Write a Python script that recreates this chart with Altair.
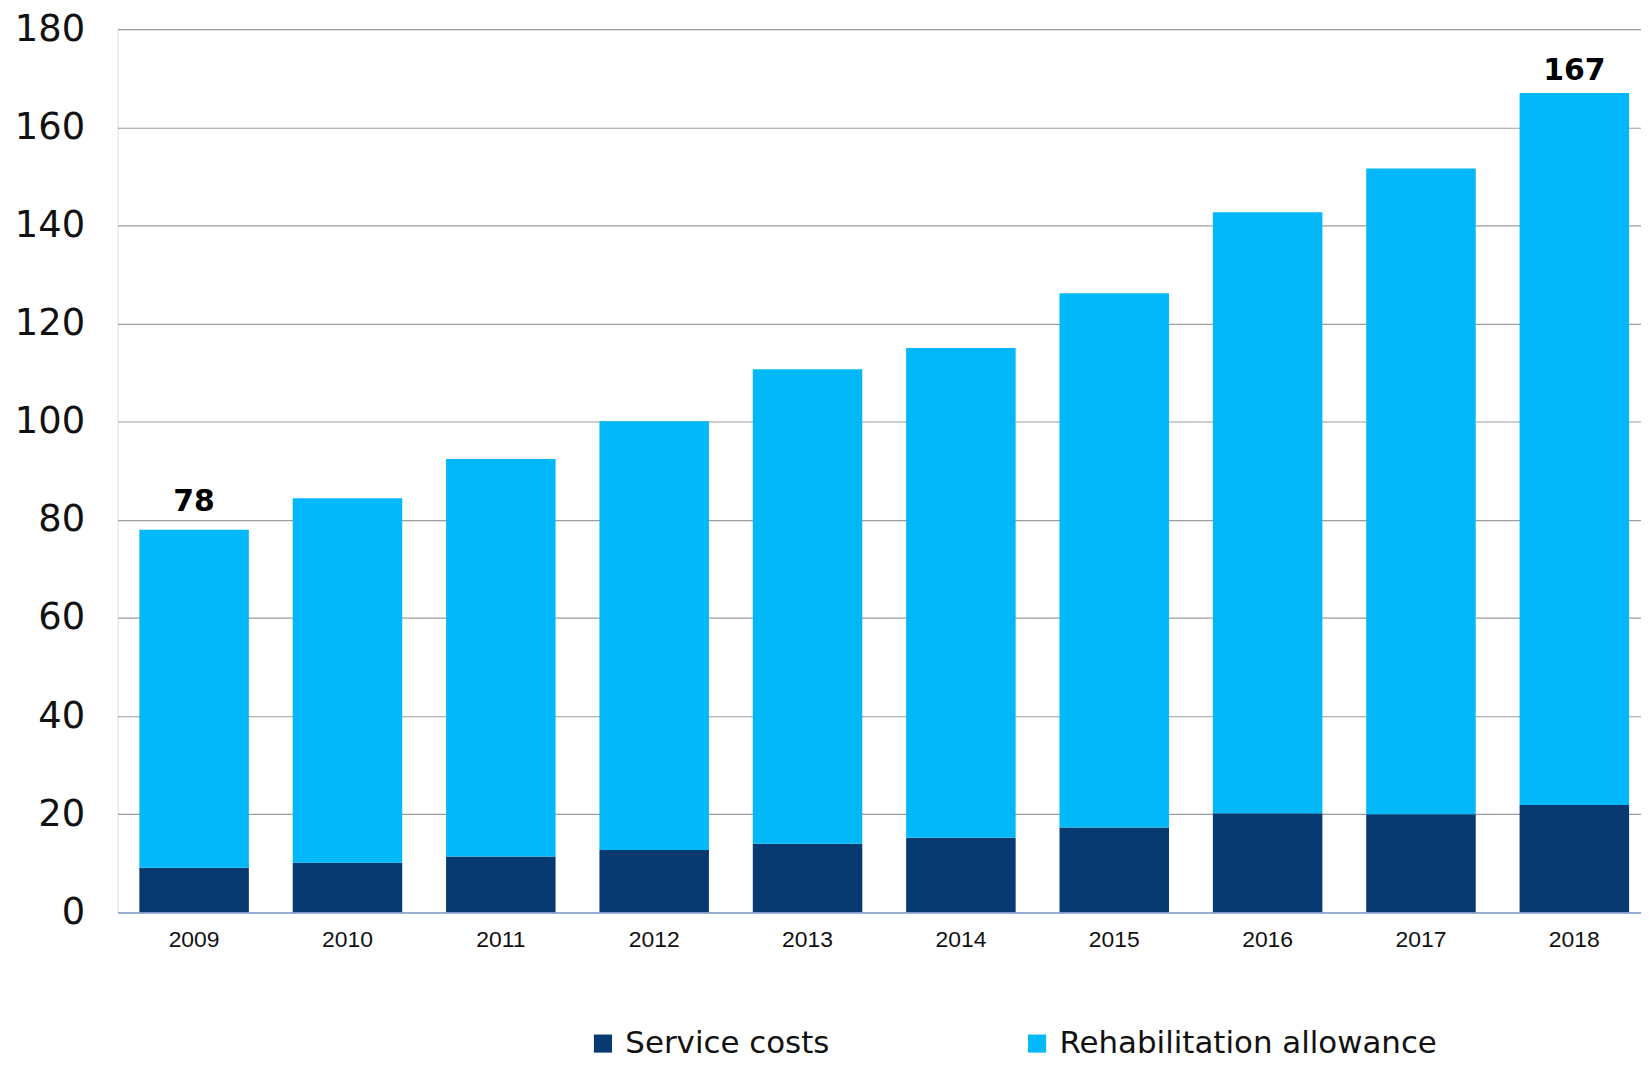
import altair as alt
import pandas as pd

years = ["2009", "2010", "2011", "2012", "2013", "2014", "2015", "2016", "2017", "2018"]
service_costs = [9.1, 10.1, 11.4, 12.7, 14.0, 15.2, 17.3, 20.2, 20.0, 21.9]
rehab_allowance = [68.9, 74.3, 81.0, 87.4, 96.7, 99.8, 108.9, 122.5, 131.6, 145.1]
series = ["Service costs", "Rehabilitation allowance"]
colors = ["#073A70", "#02B8F9"]
label_years = ["2009", "2018"]
label_values = [78, 167]
y_ticks = [0, 20, 40, 60, 80, 100, 120, 140, 160, 180]

rows = []
for i, y in enumerate(years):
    rows.append({"year": y, "series": series[0], "value": service_costs[i], "idx": 0})
    rows.append({"year": y, "series": series[1], "value": rehab_allowance[i], "idx": 1})
df = pd.DataFrame(rows)
labels = pd.DataFrame({"year": label_years, "total": label_values})

x_enc = alt.X(
    "year:N",
    sort=years,
    scale=alt.Scale(paddingInner=0.286, paddingOuter=0.11, align=0.647),
    axis=alt.Axis(
        title=None, ticks=False, labelAngle=0, labelFont="Liberation Sans",
        labelFontSize=23, labelColor="#111111", labelPadding=16,
        domainColor="#8EAADB", domainWidth=1.5, grid=False, zindex=1,
    ),
)

bars = alt.Chart(df).mark_bar().encode(
    x=x_enc,
    y=alt.Y(
        "value:Q",
        stack="zero",
        scale=alt.Scale(domain=[0, 180], nice=False),
        axis=alt.Axis(
            title=None, values=y_ticks, ticks=False, tickSize=0, domain=False,
            labelFont="DejaVu Sans", labelFontSize=37, labelColor="#111111",
            labelPadding=33, gridColor="#9C9C9C", gridWidth=1.2,
        ),
    ),
    color=alt.Color(
        "series:N",
        scale=alt.Scale(domain=series, range=colors),
        legend=alt.Legend(
            title=None, orient="none", legendX=472, legendY=1003,
            direction="horizontal", symbolType="square", symbolSize=330,
            symbolStrokeWidth=0, labelFont="DejaVu Sans", labelFontSize=31,
            labelColor="#111111", labelOffset=7, columnPadding=193, padding=0,
            labelLimit=600,
        ),
    ),
    order=alt.Order("idx:Q", sort="ascending"),
)

def value_label(offset, year):
    return alt.Chart(labels).transform_filter(alt.datum.year == year).mark_text(
        font="DejaVu Sans", fontSize=30, fontWeight="bold", color="#000000",
        baseline="alphabetic", dy=offset,
    ).encode(
        x=alt.X("year:N", sort=years),
        y=alt.Y("total:Q"),
        text=alt.Text("total:Q"),
    )

chart = (
    alt.layer(bars, value_label(-19, "2009"), value_label(-13, "2018"))
    .properties(
        width=1530, height=887,
        autosize=alt.AutoSizeParams(type="none"),
        padding={"left": 110, "top": 19, "right": 0, "bottom": 150},
    )
    .configure_view(stroke=None)
    .configure(background="#FFFFFF")
)

chart.save("out.html", embed_options={"renderer": "svg", "actions": False})
